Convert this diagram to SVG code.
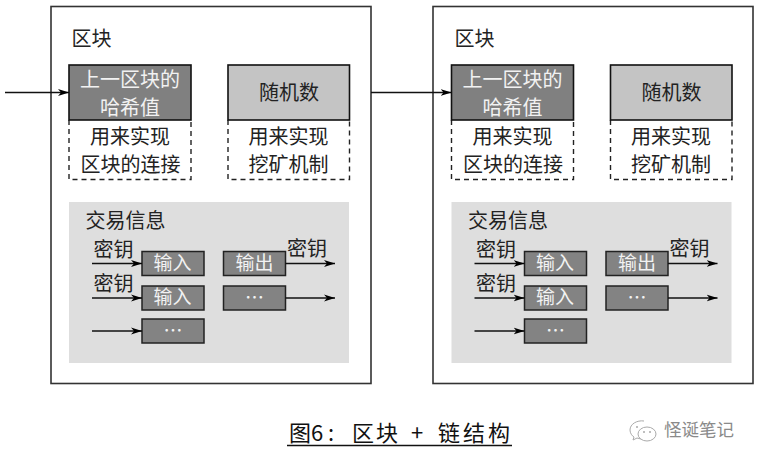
<svg xmlns="http://www.w3.org/2000/svg" width="759" height="463" viewBox="0 0 759 463">
<style>
text{font-family:"Noto Sans CJK SC","Noto Sans",sans-serif;font-size:20px;text-anchor:middle;fill:#222}
.l{text-anchor:start}
.w{fill:#f2f2f2}
.outer{fill:#fff;stroke:#333;stroke-width:1.6}
.hash{fill:#808080;stroke:#111;stroke-width:1.6}
.rand{fill:#c4c4c4;stroke:#111;stroke-width:1.6}
.dash{fill:#fff;stroke:#222;stroke-width:1.4;stroke-dasharray:5 4}
.panel{fill:#dedede}
.sb{fill:#838383;stroke:#222;stroke-width:1.5}
.sm{font-size:19px}
.c line{stroke:#111;stroke-width:1.6;marker-end:url(#a)}
</style>
<defs>
<marker id="a" markerUnits="userSpaceOnUse" markerWidth="12" markerHeight="8" refX="11" refY="4" orient="auto"><path d="M0 0.500L11 4L0 7.500L3 4Z" fill="#000"/></marker>
</defs>
<rect width="759" height="463" fill="#fff"/>

<g id="block1">
<rect class="outer" x="51" y="6.500" width="320" height="377"/>
<text class="l" x="71.500" y="46">区块</text>
</g>
<g id="block2">
<rect class="outer" x="433" y="6.500" width="320" height="377"/>
<text class="l" x="454.500" y="46">区块</text>
</g>

<g id="hash-note1"><path class="dash" d="M69 120V179.500H191V120"/>
<text x="130" y="144">用来实现</text><text x="130.500" y="172">区块的连接</text></g>
<g id="hash1"><rect class="hash" x="69" y="65" width="122" height="55"/>
<text class="w" x="130" y="87">上一区块的</text><text class="w" x="130" y="115">哈希值</text></g>
<g id="rand-note1"><path class="dash" d="M228 120V179.500H349.500V120"/>
<text x="288.500" y="144">用来实现</text><text x="288.500" y="172">挖矿机制</text></g>
<g id="rand1"><rect class="rand" x="228" y="65" width="121.500" height="55"/>
<text x="289" y="100">随机数</text></g>

<g id="tx1"><rect class="panel" x="69" y="202" width="280" height="161"/>
<text class="l" x="85.500" y="228">交易信息</text></g>
<g id="in1a"><rect class="sb" x="142" y="251.500" width="62" height="24"/><text class="w sm" x="172.500" y="270">输入</text></g>
<g id="in1b"><rect class="sb" x="142" y="286" width="62" height="24"/><text class="w sm" x="172.500" y="304">输入</text></g>
<g id="in1c"><rect class="sb" x="142" y="319" width="62" height="24"/><text class="w sm" x="173" y="338">⋯</text></g>
<g id="out1a"><rect class="sb" x="223.500" y="251.500" width="62" height="24"/><text class="w sm" x="254.500" y="270">输出</text></g>
<g id="out1b"><rect class="sb" x="223.500" y="286" width="62" height="24"/><text class="w sm" x="254.500" y="305">⋯</text></g>
<g id="key1"><text x="113.500" y="257">密钥</text><text x="113.500" y="291">密钥</text><text x="307" y="256">密钥</text></g>

<g id="hash-note2"><path class="dash" d="M451.500 120V179.500H573.500V120"/>
<text x="512.500" y="144">用来实现</text><text x="513" y="172">区块的连接</text></g>
<g id="hash2"><rect class="hash" x="451.500" y="65" width="122" height="55"/>
<text class="w" x="512.500" y="87">上一区块的</text><text class="w" x="512.500" y="115">哈希值</text></g>
<g id="rand-note2"><path class="dash" d="M610.500 120V179.500H732V120"/>
<text x="671" y="144">用来实现</text><text x="671" y="172">挖矿机制</text></g>
<g id="rand2"><rect class="rand" x="610.500" y="65" width="121.500" height="55"/>
<text x="671.500" y="100">随机数</text></g>

<g id="tx2"><rect class="panel" x="451.500" y="202" width="280" height="161"/>
<text class="l" x="468" y="228">交易信息</text></g>
<g id="in2a"><rect class="sb" x="524.500" y="251.500" width="62" height="24"/><text class="w sm" x="555" y="270">输入</text></g>
<g id="in2b"><rect class="sb" x="524.500" y="286" width="62" height="24"/><text class="w sm" x="555" y="304">输入</text></g>
<g id="in2c"><rect class="sb" x="524.500" y="319" width="62" height="24"/><text class="w sm" x="555.500" y="338">⋯</text></g>
<g id="out2a"><rect class="sb" x="606" y="251.500" width="62" height="24"/><text class="w sm" x="637" y="270">输出</text></g>
<g id="out2b"><rect class="sb" x="606" y="286" width="62" height="24"/><text class="w sm" x="637" y="305">⋯</text></g>
<g id="key2"><text x="496" y="257">密钥</text><text x="496" y="291">密钥</text><text x="689.500" y="256">密钥</text></g>

<g id="connectors" class="c">
<line x1="5" y1="92.500" x2="69" y2="92.500"/>
<line x1="371" y1="92.500" x2="451.500" y2="92.500"/>
<line x1="92" y1="263.500" x2="142" y2="263.500"/>
<line x1="92" y1="298" x2="142" y2="298"/>
<line x1="92" y1="331" x2="142" y2="331"/>
<line x1="285.500" y1="263.500" x2="335" y2="263.500"/>
<line x1="285.500" y1="298" x2="335" y2="298"/>
<line x1="474.500" y1="263.500" x2="524.500" y2="263.500"/>
<line x1="474.500" y1="298" x2="524.500" y2="298"/>
<line x1="474.500" y1="331" x2="524.500" y2="331"/>
<line x1="668" y1="263.500" x2="717.500" y2="263.500"/>
<line x1="668" y1="298" x2="717.500" y2="298"/>
</g>

<g id="caption">
<text class="l" style="font-size:22px;fill:#111" x="289 311 328 352 376 411 438 463 488" y="441">图6:区块+链结构</text>
<line x1="287" y1="445.500" x2="512" y2="445.500" stroke="#111" stroke-width="1.500"/>
</g>
<g id="watermark">
<path d="M644 421c-7-1-14 3-14 9 0 3 2 6 4 7l-1 3 4-2c1 0 3 1 4 1" fill="#fff" stroke="#aaa" stroke-width="1"/>
<ellipse cx="647" cy="434" rx="9" ry="7" fill="#fff" stroke="#aaa" stroke-width="1"/>
<circle cx="637" cy="427" r="1" fill="#aaa"/><circle cx="644" cy="432" r="1" fill="#aaa"/><circle cx="650" cy="432" r="1" fill="#aaa"/>
<text class="l" style="font-size:17.500px;fill:#8a8a8a" x="664" y="436">怪诞笔记</text>
</g>
</svg>
